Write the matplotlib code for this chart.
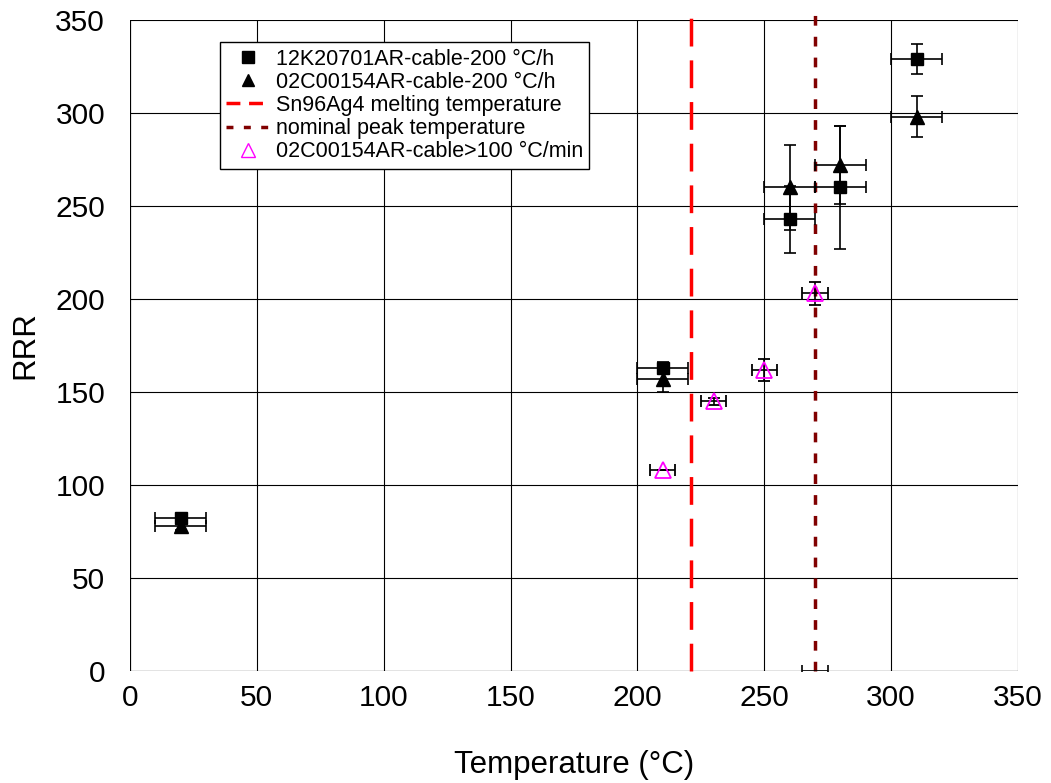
import matplotlib
matplotlib.use("Agg")
import matplotlib.pyplot as plt
from matplotlib.lines import Line2D

plt.rcParams['font.family'] = ['Liberation Sans', 'DejaVu Sans']

# 12K20701AR-cable-200 °C/h
sq_temp = [20, 210, 260, 280, 310]
sq_rrr = [82, 163, 243, 260, 329]
sq_xerr = [10, 10, 10, 10, 10]
sq_yerr = [2, 3, 18, 33, 8]

# 02C00154AR-cable-200 °C/h
tri_temp = [20, 210, 260, 280, 310]
tri_rrr = [78, 157, 260, 272, 298]
tri_xerr = [10, 10, 10, 10, 10]
tri_yerr = [2, 7, 23, 21, 11]

# 02C00154AR-cable>100 °C/min
fast_temp = [210, 230, 250, 270]
fast_rrr = [108, 145, 162, 203]
fast_xerr = [5, 5, 5, 5]
fast_yerr = [0, 2, 6, 6]

melt_temp = 221
peak_temp = 270
peak_xerr = 5

fig = plt.figure(figsize=(10.51, 7.83), dpi=100)
ax = fig.add_axes([130 / 1051, 1 - 671 / 783, 888 / 1051, 651 / 783])

eb = dict(ecolor='black', elinewidth=1.2, capsize=4, capthick=1.2, linestyle='none')
ax.errorbar(sq_temp, sq_rrr, xerr=sq_xerr, yerr=sq_yerr, marker='s', ms=9,
            mfc='black', mec='black', zorder=4, **eb)
ax.errorbar(tri_temp, tri_rrr, xerr=tri_xerr, yerr=tri_yerr, marker='^', ms=10,
            mfc='black', mec='black', zorder=4, **eb)
ax.errorbar(fast_temp, fast_rrr, xerr=fast_xerr, yerr=fast_yerr, marker='^', ms=11,
            mfc='none', mec='#ff00ff', mew=1.3, zorder=5, **eb)

ax.plot([melt_temp, melt_temp], [0, 355], color='#ff0000', lw=2.5,
        dashes=(8, 4), clip_on=False, zorder=3)
ax.plot([peak_temp, peak_temp], [0, 355], color='#800000', lw=2.5,
        dashes=(2.8, 3.2), clip_on=False, zorder=3)
ax.errorbar([peak_temp], [0], xerr=[peak_xerr], **eb, zorder=3)

ax.set_xlim(0, 350)
ax.set_ylim(0, 350)
ax.set_xticks(range(0, 351, 50))
ax.set_yticks(range(0, 351, 50))
ax.tick_params(axis='both', labelsize=21.5, length=0)
ax.tick_params(axis='y', pad=18)
ax.tick_params(axis='x', pad=9)
ax.grid(True, color='black', lw=0.8)
for s in ax.spines.values():
    s.set_visible(False)
ax.axhline(0, color='black', lw=0.8)
ax.axvline(0, color='black', lw=0.8)

ax.set_xlabel('Temperature (°C)', fontsize=22.5, labelpad=28)
ax.set_ylabel('RRR', fontsize=22.5, labelpad=11)

handles = [
    Line2D([], [], marker='s', color='black', ls='none', ms=8),
    Line2D([], [], marker='^', color='black', ls='none', ms=9),
    Line2D([], [], color='#ff0000', lw=2.5, dashes=(4, 2.5)),
    Line2D([], [], color='#800000', lw=2.5, dashes=(2, 3)),
    Line2D([], [], marker='^', mfc='none', mec='#ff00ff', ls='none', ms=10),
]
labels = ['12K20701AR-cable-200 °C/h', '02C00154AR-cable-200 °C/h',
          'Sn96Ag4 melting temperature', 'nominal peak temperature',
          '02C00154AR-cable>100 °C/min']
leg = ax.legend(handles, labels, loc='upper left', bbox_to_anchor=(0.101, 0.966),
                fontsize=15.5, frameon=True, fancybox=False, framealpha=1,
                edgecolor='black', borderpad=0.3, handlelength=2.0,
                handletextpad=0.3, labelspacing=0.1, borderaxespad=0)
leg.get_frame().set_linewidth(1.0)

fig.savefig('out.png', dpi=100)
